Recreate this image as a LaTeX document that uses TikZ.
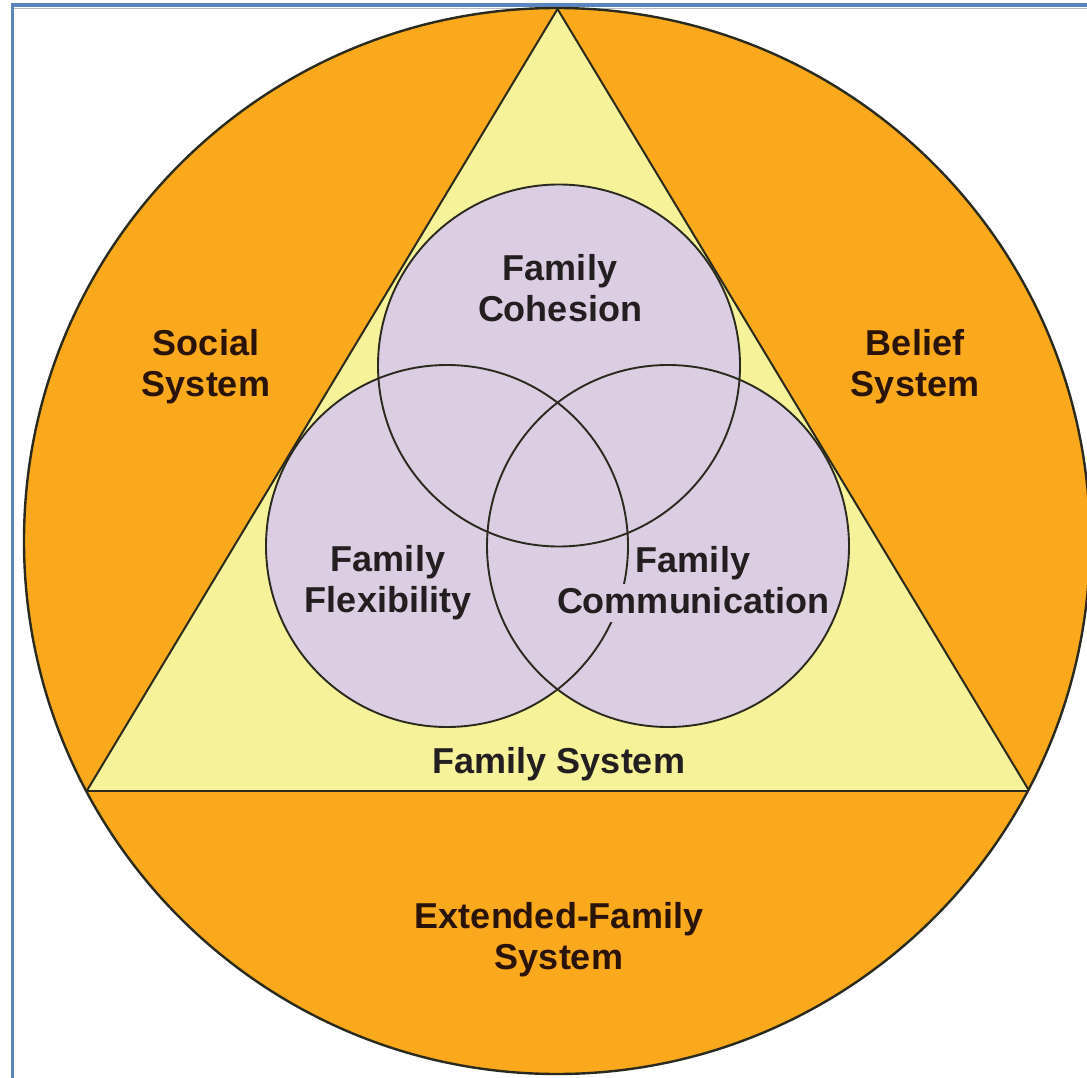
\documentclass[tikz,border=0pt]{standalone}
\usepackage{fontspec}
\setmainfont{Liberation Sans}
\begin{document}
\definecolor{frameblue}{HTML}{5A86BF}
\definecolor{framegray}{HTML}{B8BCC0}
\definecolor{outerorange}{HTML}{F9A91B}
\definecolor{triyellow}{HTML}{F6F29A}
\definecolor{lav}{HTML}{DBCDE2}
\definecolor{outline}{HTML}{2A2A1E}
\definecolor{ink}{HTML}{231F20}
\definecolor{brownink}{HTML}{2A1408}
\begin{tikzpicture}[x=1pt,y=-1pt,
  label/.style={font=\fontsize{36}{41}\selectfont\bfseries, align=center, inner sep=0pt},
  ring/.style={draw=outline, line width=2pt},
  venn/.style={fill=lav}]
  % canvas
  \useasboundingbox (0,0) rectangle (1087,1078);
  \fill[white] (0,0) rectangle (1087,1078);

  % frame edges
  \draw[framegray, line width=1.2pt] (14,8.8) -- (1087,8.8);
  \draw[frameblue, line width=3.4pt] (10.5,5.2) -- (1087,5.2);
  \draw[frameblue, line width=3.4pt] (12.5,3.5) -- (12.5,1078);

  % outer system circle
  \coordinate (oc) at (557,541);
  \fill[outerorange] (oc) circle[radius=533];

  % family system triangle
  \coordinate (tA) at (557.5,9);
  \coordinate (tB) at (87,790.5);
  \coordinate (tC) at (1029,790.5);
  \fill[triyellow] (tA) -- (tB) -- (tC) -- cycle;

  % three family circles
  \coordinate (cTop) at (559,365.5);
  \coordinate (cLeft) at (447,546);
  \coordinate (cRight) at (668,546);
  \fill[venn] (cTop) circle[radius=181];
  \fill[venn] (cLeft) circle[radius=181];
  \fill[venn] (cRight) circle[radius=181];

  % outlines
  \draw[ring] (tA) -- (tB);
  \draw[ring] (tA) -- (tC);
  \draw[ring] (tB) -- (tC);
  \draw[ring, line width=2.4pt] (oc) circle[radius=533];
  \draw[ring, line width=1.9pt] (cTop) circle[radius=181];
  \draw[ring, line width=1.9pt] (cLeft) circle[radius=181];
  \draw[ring, line width=1.9pt] (cRight) circle[radius=181];

  % labels
  \node[label, text=brownink] (social) at (206,367) {Social\\System};
  \node[label, text=brownink] (belief) at (915,367) {Belief\\System};
  \node[label, text=ink] (cohesion) at (560,288) {Family\\Cohesion};
  \node[label, text=ink] (flex) at (388,583) {Family\\Flexibility};
  \node[label, text=ink] (comm) at (693,584) {Family\\{\fboxsep=0pt\colorbox{lav}{\rule[-9pt]{0pt}{38pt}Communication}}};
  \node[label, text=ink] (famsys) at (559,764) {Family System};
  \node[label, text=brownink] (extended) at (559,940) {Extended-Family\\System};
\end{tikzpicture}
\end{document}
